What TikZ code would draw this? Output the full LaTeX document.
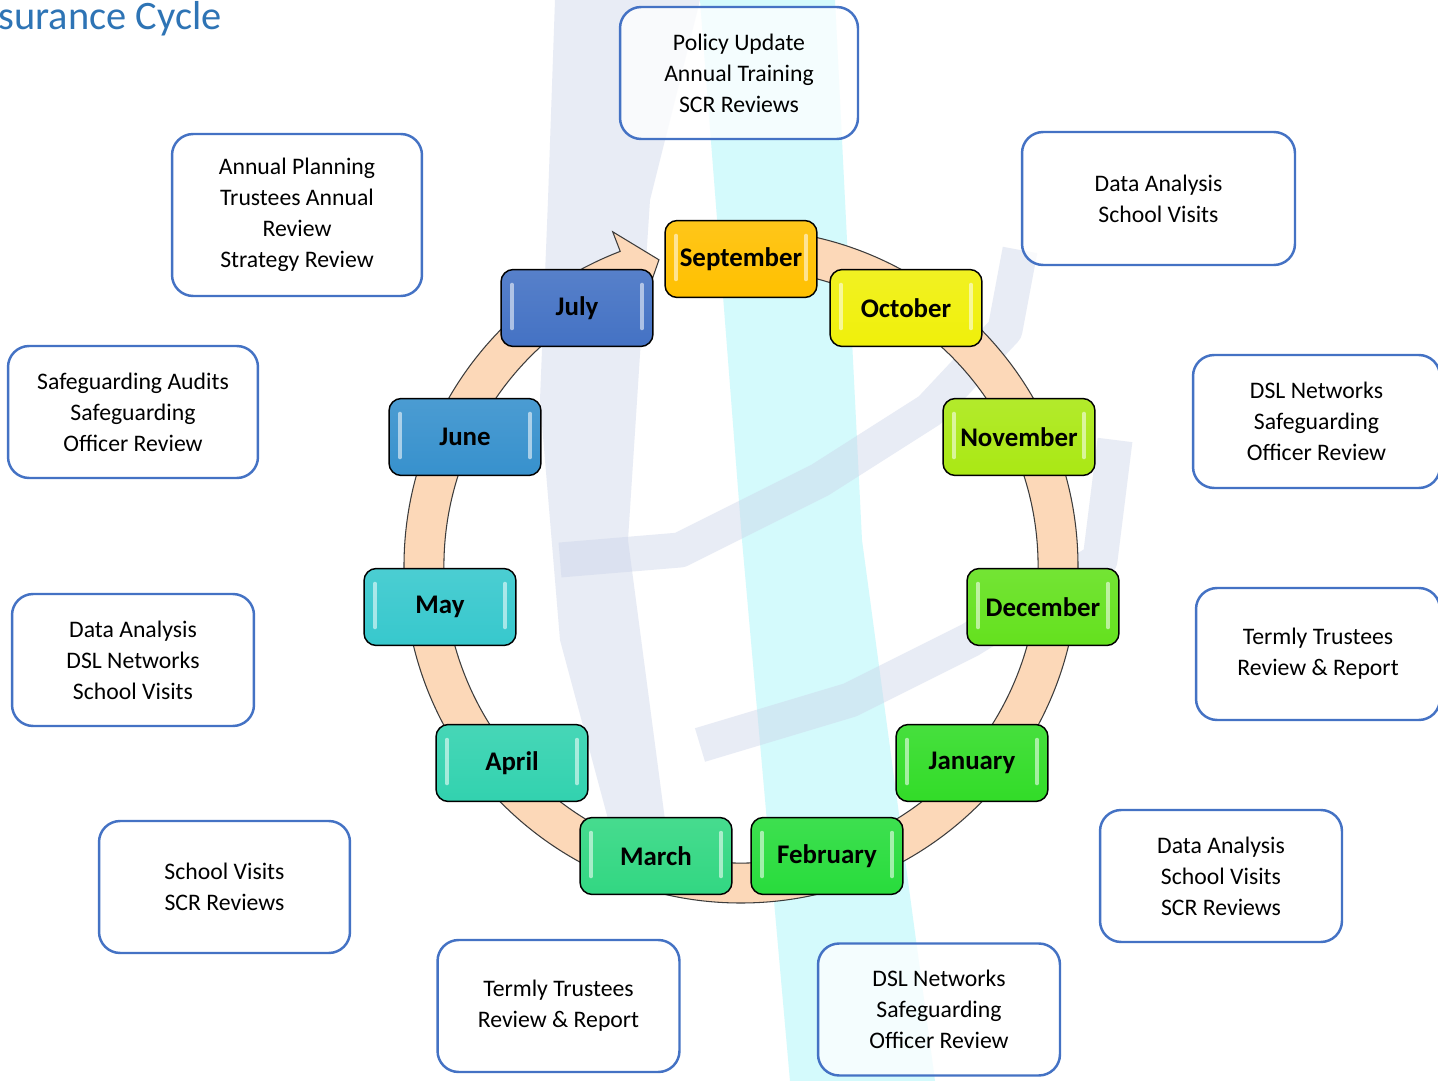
\documentclass[tikz,border=0pt]{standalone}
\usepackage{fontspec}
\setmainfont{Carlito}
\usetikzlibrary{calc}

\definecolor{titleblue}{RGB}{46,116,181}
\definecolor{boxblue}{RGB}{68,114,196}
\definecolor{peach}{RGB}{252,216,184}
\definecolor{ringline}{RGB}{60,60,60}
\definecolor{wmcyan}{RGB}{212,250,252}
\definecolor{wmlav}{RGB}{205,213,234}
\definecolor{sep}{RGB}{255,192,0}
\definecolor{oct}{RGB}{240,240,10}
\definecolor{nov}{RGB}{170,232,20}
\definecolor{dec}{RGB}{100,225,30}
\definecolor{jan}{RGB}{50,220,40}
\definecolor{feb}{RGB}{40,220,60}
\definecolor{mar}{RGB}{50,215,130}
\definecolor{apr}{RGB}{50,210,175}
\definecolor{may}{RGB}{55,200,205}
\definecolor{jun}{RGB}{55,145,205}
\definecolor{jul}{RGB}{68,114,196}

\tikzset{
    month/.style={draw=black, line width=0.85pt, rounded corners=7pt,
        minimum width=3.04cm, minimum height=1.54cm, inner sep=0pt,
        font=\fontsize{15.3}{18}\selectfont\bfseries,
        path picture={
            \draw[white, opacity=0.55, line width=2pt, line cap=round]
                ([xshift=0.22cm, yshift=-0.3cm]path picture bounding box.north west) --
                ([xshift=0.22cm, yshift=0.36cm]path picture bounding box.south west)
                ([xshift=-0.22cm, yshift=-0.3cm]path picture bounding box.north east) --
                ([xshift=-0.22cm, yshift=0.36cm]path picture bounding box.south east);
        }},
    note/.style={draw=boxblue, line width=1.4pt, rounded corners=12pt,
        fill=white, fill opacity=0.75, text opacity=1,
        minimum width=4.84cm, minimum height=2.64cm, inner sep=0pt,
        align=center, font=\fontsize{13.5}{17.6}\selectfont},
}

\begin{document}
\begin{tikzpicture}[x=0.02cm, y=0.02cm]
    \useasboundingbox (0,0) rectangle (1438,-1081);
    \fill[white] (0,0) rectangle (1438,-1081);

    % faded logo behind
    \fill[wmcyan] (700,0) -- (835,0) -- (862,-540) -- (935,-1081) -- (790,-1081) -- (742,-540) -- cycle;
    \fill[wmlav, opacity=0.45] (555,0) -- (700,0) -- (650,-200) -- (628,-540) -- (665,-820) -- (615,-845)
        -- (560,-640) -- (540,-400) -- (548,-200) -- cycle;
    \draw[wmlav, opacity=0.45, line width=0.7cm, line join=round]
        (560,-560) -- (680,-550) -- (820,-480) -- (930,-410) -- (1005,-330) -- (1020,-250);
    \draw[wmlav, opacity=0.45, line width=0.7cm, line join=round]
        (700,-745) -- (850,-700) -- (970,-640) -- (1100,-560) -- (1115,-440);

    % title
    \node[anchor=base east, text=titleblue, inner sep=0pt,
        font=\fontsize{23}{27}\selectfont] (title) at (222,-30) {surance Cycle};

    % cycle arrow
    \coordinate (C) at (741,-566);
    \filldraw[fill=peach, draw=ringline, line width=0.6pt]
        ($(C)+(92:337)$) arc[start angle=92, end angle=-249, radius=337]
        -- ($(C)+(-249:358)$) -- ($(C)+(-255:317)$) -- ($(C)+(-249:276)$)
        -- ($(C)+(-249:297)$) arc[start angle=-249, end angle=92, radius=297] -- cycle;

    % months
    \foreach \name/\x/\y/\col in {September/741/259/sep, October/906/308/oct,
        November/1019/437/nov, December/1043/607/dec, January/972/763/jan,
        February/827/856/feb, March/656/856/mar, April/512/763/apr,
        May/440/607/may, June/465/437/jun, July/577/308/jul} {
        \node[month, top color=\col!90!white, bottom color=\col] (\name) at (\x,-\y) {\name};
    }

    % notes
    \node[note, minimum width=4.76cm] (sepnote) at (739,-73) {Policy Update\\Annual Training\\SCR Reviews};
    \node[note, minimum width=5.46cm, minimum height=2.66cm] (octnote) at (1158.5,-198.5) {Data Analysis\\School Visits};
    \node[note, minimum width=4.94cm, minimum height=2.66cm] (novnote) at (1316.5,-421.5) {DSL Networks\\Safeguarding\\Officer Review};
    \node[note, minimum width=4.88cm] (decnote) at (1318,-654) {Termly Trustees\\Review \& Report};
    \node[note] (jannote) at (1221,-876) {Data Analysis\\School Visits\\SCR Reviews};
    \node[note] (febnote) at (939,-1009.5) {DSL Networks\\Safeguarding\\Officer Review};
    \node[note] (marnote) at (558.5,-1006) {Termly Trustees\\Review \& Report};
    \node[note, minimum width=5.02cm] (aprnote) at (224.5,-887) {School Visits\\SCR Reviews};
    \node[note] (maynote) at (133,-660) {Data Analysis\\DSL Networks\\School Visits};
    \node[note, minimum width=5cm] (junnote) at (133,-412) {Safeguarding Audits\\Safeguarding\\Officer Review};
    \node[note, minimum width=5cm, minimum height=3.24cm] (julnote) at (297,-215) {Annual Planning\\Trustees Annual\\Review\\Strategy Review};
\end{tikzpicture}
\end{document}
